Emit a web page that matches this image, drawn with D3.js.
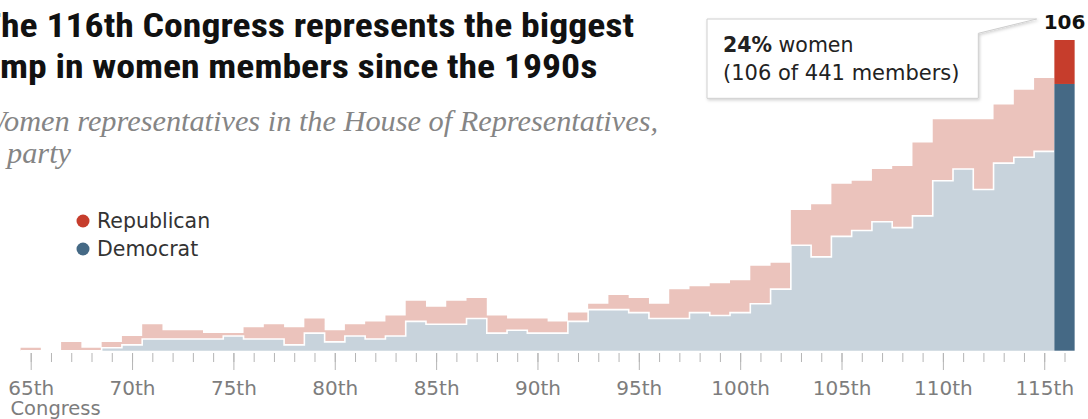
<!DOCTYPE html>
<html>
<head>
<meta charset="utf-8">
<script src="https://cdn.jsdelivr.net/npm/d3@7"></script>
<style>
  html, body { margin: 0; padding: 0; background: #fff; }
  svg { display: block; }
</style>
</head>
<body>
<div id="chart"></div>
<script>
// Women in the House, by Congress (incl. delegates)
const congresses = [65, 66, 67, 68, 69, 70, 71, 72, 73, 74, 75, 76, 77, 78, 79, 80, 81, 82, 83, 84,
  85, 86, 87, 88, 89, 90, 91, 92, 93, 94, 95, 96, 97, 98, 99, 100, 101, 102, 103, 104,
  105, 106, 107, 108, 109, 110, 111, 112, 113, 114, 115, 116];
const demWomen = [0, 0, 0, 0, 1, 2, 4, 4, 4, 4, 5, 4, 4, 2, 6, 3, 5, 4, 5, 10,
  9, 9, 11, 6, 7, 6, 6, 10, 14, 14, 13, 11, 11, 13, 12, 13, 16, 21, 36, 32,
  39, 41, 44, 42, 46, 58, 62, 55, 64, 66, 68, 91];
const repWomen = [1, 0, 3, 1, 2, 3, 5, 3, 3, 2, 1, 4, 5, 6, 5, 4, 4, 6, 7, 7,
  6, 8, 7, 6, 4, 5, 4, 3, 2, 5, 5, 5, 10, 9, 11, 11, 13, 9, 12, 18,
  18, 17, 18, 21, 25, 21, 17, 24, 20, 23, 25, 15];
const majorTicks = [65, 70, 75, 80, 85, 90, 95, 100, 105, 110, 115];
const legendItems = ["Republican", "Democrat"];

const titleLines = ["The 116th Congress represents the biggest", "jump in women members since the 1990s"];
const subtitleLines = ["Women representatives in the House of Representatives,", "by party"];

const W = 1088, H = 419;
const colors = {
  repSolid: "#c63d2c", demSolid: "#456985",
  repLight: "#ebc3bc", demLight: "#c8d3dc"
};
const sans = "'DejaVu Sans', 'Noto Sans', sans-serif";

const svg = d3.select("#chart").append("svg")
  .attr("width", W).attr("height", H);

const defs = svg.append("defs");
const shadow = defs.append("filter").attr("id", "shadow")
  .attr("x", "-10%").attr("y", "-10%").attr("width", "130%").attr("height", "140%");
shadow.append("feDropShadow").attr("dx", 1).attr("dy", 1.5)
  .attr("stdDeviation", 1.5).attr("flood-color", "#000").attr("flood-opacity", 0.18);

// scales
const x = d3.scaleLinear().domain([65, 116]).range([30.7, 1064.5]);
const step = x(66) - x(65);
const y = d3.scaleLinear().domain([0, 106]).range([350.7, 40]);

const data = congresses.map((c, i) => ({ c, d: demWomen[i], r: repWomen[i] }));
const last = data[data.length - 1];
const hist = data.slice(0, -1);
// step series: left edge of each congress, plus closing point
const stepData = hist.map(e => ({ ...e, x0: x(e.c) - step / 2 }));
const tail = hist[hist.length - 1];
stepData.push({ ...tail, x0: x(tail.c) + step / 2 });

const demArea = d3.area().curve(d3.curveStepAfter)
  .x(e => e.x0).y0(y(0)).y1(e => y(e.d));
const repArea = d3.area().curve(d3.curveStepAfter)
  .x(e => e.x0).y0(e => y(e.d)).y1(e => y(e.d + e.r));
const demLine = d3.line().curve(d3.curveStepAfter)
  .x(e => e.x0).y(e => y(e.d));

svg.append("path").attr("d", repArea(stepData)).attr("fill", colors.repLight);
svg.append("path").attr("d", demArea(stepData)).attr("fill", colors.demLight);
svg.append("path").attr("d", demLine(stepData))
  .attr("fill", "none").attr("stroke", "#fff").attr("stroke-width", 1.6);

// 116th congress, solid bar
svg.append("rect")
  .attr("x", x(last.c) - step / 2).attr("width", step)
  .attr("y", y(last.d)).attr("height", y(0) - y(last.d))
  .attr("fill", colors.demSolid);
svg.append("rect")
  .attr("x", x(last.c) - step / 2).attr("width", step)
  .attr("y", y(last.d + last.r)).attr("height", y(last.d) - y(last.d + last.r))
  .attr("fill", colors.repSolid);

// axis
const axisY = 353;
const minor = svg.append("g").attr("transform", `translate(0,${axisY})`)
  .call(d3.axisBottom(x).tickValues(congresses).tickSize(9).tickFormat(""));
minor.select(".domain").remove();
minor.selectAll("line").attr("stroke", "#b5b5b5");

const major = svg.append("g").attr("transform", `translate(0,${axisY})`)
  .call(d3.axisBottom(x).tickValues(majorTicks).tickSize(17).tickPadding(11)
    .tickFormat(d => d + "th"));
major.select(".domain").remove();
major.selectAll("line").attr("stroke", "#b5b5b5");
major.selectAll("text").attr("fill", "#7d7d7d")
  .style("font-family", sans).style("font-size", "20px");

svg.append("text").attr("x", 10.5).attr("y", 415)
  .attr("fill", "#7d7d7d").style("font-family", sans).style("font-size", "19.5px")
  .text("Congress");

// legend
const legend = svg.append("g");
legendItems.forEach((name, i) => {
  legend.append("circle").attr("cx", 83).attr("cy", 221 + i * 28).attr("r", 6.5)
    .attr("fill", i === 0 ? colors.repSolid : colors.demSolid);
  legend.append("text").attr("x", 97).attr("y", 228 + i * 28)
    .attr("fill", "#333").style("font-family", sans).style("font-size", "20.5px")
    .text(name);
});

// callout box
const bx0 = 707, bx1 = 978.3, by0 = 19, by1 = 98.3;
svg.append("path")
  .attr("d", `M${bx0},${by0} L1036.7,${by0} L${bx1},33.3 L${bx1},${by1} L${bx0},${by1} Z`)
  .attr("fill", "#fff").attr("stroke", "#cfcfcf").attr("stroke-width", 1)
  .attr("filter", "url(#shadow)");
const t1 = svg.append("text").attr("x", 723).attr("y", 52)
  .attr("fill", "#222").style("font-family", sans).style("font-size", "20.5px");
t1.append("tspan").style("font-weight", "bold").text("24%");
t1.append("tspan").text(" women");
svg.append("text").attr("x", 723).attr("y", 80)
  .attr("fill", "#222").style("font-family", sans).style("font-size", "21px")
  .text("(106 of 441 members)");

svg.append("text").attr("x", x(last.c)).attr("y", 29).attr("text-anchor", "middle")
  .attr("fill", "#111").style("font-family", sans).style("font-size", "20px")
  .style("font-weight", "bold").text(last.d + last.r);

// title + subtitle, left part cropped off like the reference
function prefixWidth(sel, n) {
  const node = sel.node();
  return node.getSubStringLength(0, n + 1) - node.getSubStringLength(n, 1);
}
function placeLines(lines, cut, opts) {
  const sels = lines.map((s, i) => svg.append("text")
    .attr("y", opts.y[i]).attr("fill", opts.color)
    .style("font-family", opts.family).style("font-size", opts.size + "px")
    .style("font-weight", opts.weight).style("font-style", opts.style)
    .text(s));
  const full0 = sels[0].node().getComputedTextLength();
  const pre0 = prefixWidth(sels[0], cut[0]);
  const k = (opts.end - opts.starts[0]) / (full0 - pre0);
  sels.forEach((sel, i) => {
    const full = sel.node().getComputedTextLength();
    const pre = prefixWidth(sel, cut[i]);
    sel.attr("x", opts.starts[i] - pre * k).attr("textLength", full * k)
      .attr("lengthAdjust", "spacingAndGlyphs");
  });
}

placeLines(titleLines, [1, 2], {
  y: [37, 78], color: "#111", family: "'Liberation Sans Narrow', 'Roboto Condensed', Roboto, sans-serif",
  size: 33, weight: "bold", style: "normal", end: 634, starts: [1, 0]
});
placeLines(subtitleLines, [1, 3], {
  y: [131, 163], color: "#858585", family: "'Liberation Serif', 'DejaVu Serif', serif",
  size: 29, weight: "normal", style: "italic", end: 658, starts: [4, 7]
});
</script>
</body>
</html>
